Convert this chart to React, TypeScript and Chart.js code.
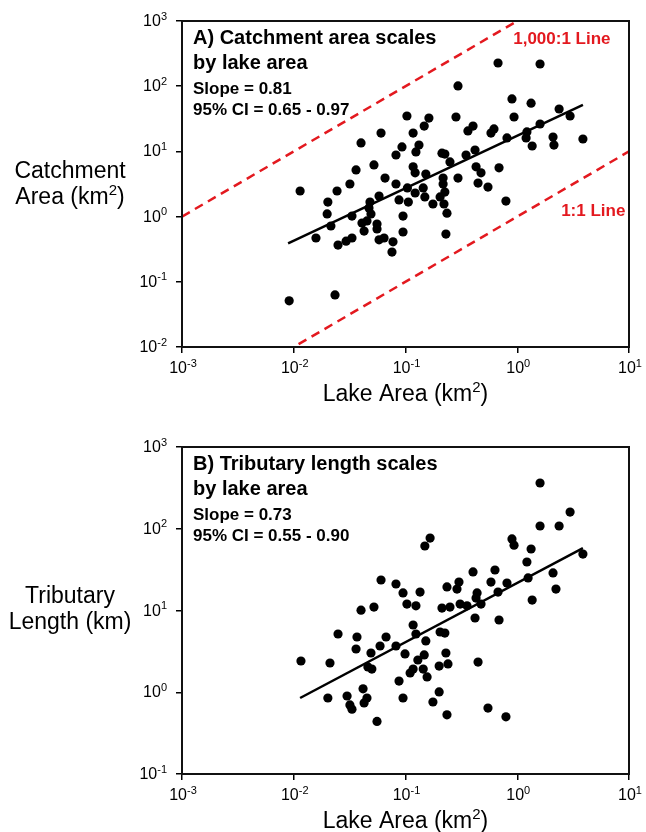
import React, { useEffect, useRef } from "react";
import { Chart, registerables } from "chart.js";

Chart.register(...registerables);

const FONT = '"Liberation Sans", Arial, Helvetica, sans-serif';
const RED = "#e3191f";
const INK = "#000000";

// ---------- Panel A: catchment area vs lake area ----------
const lakeAreaA = [
  0.0114, 0.0091, 0.0234, 0.0244, 0.0318, 0.0361, 0.0656, 0.0822, 0.104, 0.0202,
  0.0199, 0.0332, 0.0481, 0.058, 0.0471, 0.0491, 0.0875, 0.106, 0.095, 0.0215,
  0.0408, 0.0452, 0.0556, 0.0556, 0.0426, 0.095, 0.0158, 0.0332, 0.0294, 0.0249,
  0.058, 0.0643, 0.0773, 0.0757, 0.103, 0.0604, 0.04, 0.093, 0.0822, 0.0522,
  0.673, 1.6, 0.295, 0.897, 1.33, 2.37, 2.97, 0.162, 0.283, 0.936,
  0.147, 0.117, 0.402, 0.362, 0.619, 0.582, 1.6, 1.22, 0.809, 1.2,
  2.09, 2.13, 3.87, 1.36, 0.132, 0.124, 0.212, 0.225, 0.348, 0.419,
  0.25, 0.117, 0.122, 0.152, 0.428, 0.474, 0.687, 0.217, 0.295, 0.122,
  0.144, 0.149, 0.176, 0.204, 0.217, 0.225, 0.221, 0.235, 0.23, 0.446,
  0.547, 0.792,
];
const catchmentA = [
  2.47, 0.051, 0.063, 2.47, 3.16, 5.2, 3.9, 3.16, 2.75, 1.67,
  1.1, 1.02, 1.67, 2.07, 1.36, 1.1, 1.8, 1.67, 1.02, 0.718,
  0.798, 0.857, 0.77, 0.645, 0.6, 0.58, 0.47, 0.47, 0.42, 0.366,
  0.44, 0.47, 0.41, 0.286, 34.9, 19.1, 13.5, 11.7, 8.8, 6.2,
  227, 219, 101, 63.7, 55, 44.7, 34.9, 32.5, 33.7, 33.7,
  24.5, 19.1, 24.5, 20.6, 22.1, 19.1, 26.3, 19.9, 16.1, 16.1,
  16.6, 12.5, 15.5, 12.1, 12.5, 9.8, 9.4, 9.1, 8.8, 10.5,
  6.9, 5.8, 4.7, 4.5, 5.8, 4.7, 5.6, 3.9, 3.9, 2.3,
  2.75, 2.0, 1.56, 2.0, 3.16, 2.38, 1.56, 1.13, 0.54, 3.27,
  2.84, 1.73,
];
const fitLakeA = [0.0089, 3.87];
const fitCatchA = [0.39, 51.5];
const ratio1000X = [0.001, 10];
const ratio1000Y = [1, 10000];
const ratio1X = [0.001, 10];
const ratio1Y = [0.001, 10];

// ---------- Panel B: tributary length vs lake area ----------
const lakeAreaB = [
  0.0604, 0.0822, 0.095, 0.103, 0.04, 0.0522, 1.6, 2.97, 1.6, 2.37,
  0.166, 0.149, 0.897, 0.936, 1.33, 3.87, 1.22, 0.402, 0.632, 2.09,
  0.582, 0.809, 0.301, 0.235, 0.289, 1.25, 2.22, 0.135, 0.437, 0.673,
  0.124, 0.212, 0.25, 0.308, 0.355, 0.428, 0.474, 1.36, 0.419, 0.687,
  0.0249, 0.0368, 0.067, 0.0361, 0.0491, 0.0592, 0.0822, 0.099, 0.0116, 0.0211,
  0.0461, 0.05, 0.11, 0.0875, 0.0417, 0.0202, 0.03, 0.0452, 0.0426, 0.0318,
  0.0332, 0.095, 0.0556, 0.117, 0.124, 0.152, 0.204, 0.225, 0.147, 0.129,
  0.23, 0.2, 0.24, 0.446, 0.144, 0.117, 0.156, 0.2, 0.176, 0.547,
  0.235, 0.792,
];
const tributaryB = [
  23.6, 21.1, 16.4, 12.0, 10.1, 11.0, 363, 160, 108, 108,
  77, 61.5, 75, 63, 56.5, 49, 39.2, 29.6, 31.3, 28.8,
  22.3, 21.7, 22.3, 19.4, 18.3, 25, 18.3, 16.8, 16.4, 16.8,
  11.4, 10.7, 11.0, 12.0, 11.4, 14.2, 12.0, 13.4, 8.1, 7.65,
  5.16, 4.74, 4.74, 3.38, 3.02, 3.68, 3.68, 2.94, 2.41, 2.28,
  2.04, 1.92, 1.72, 1.37, 1.1, 0.85, 0.9, 0.85, 0.74, 0.7,
  0.62, 0.85, 0.44, 6.65, 5.16, 4.24, 5.46, 5.3, 2.86, 2.48,
  3.02, 2.09, 2.22, 2.34, 1.92, 1.92, 1.54, 1.01, 0.76, 0.64,
  0.53, 0.5,
];
const fitLakeB = [0.0114, 3.87];
const fitTribB = [0.85, 58];

// ---------- ticks & text ----------
const xTickValues = [0.001, 0.01, 0.1, 1, 10];
const xTickLabels = ["10^-3", "10^-2", "10^-1", "10^0", "10^1"];
const yTickValuesA = [0.01, 0.1, 1, 10, 100, 1000];
const yTickLabelsA = ["10^-2", "10^-1", "10^0", "10^1", "10^2", "10^3"];
const yTickValuesB = [0.1, 1, 10, 100, 1000];
const yTickLabelsB = ["10^-1", "10^0", "10^1", "10^2", "10^3"];

const panelTextA = ["A) Catchment area scales", "by lake area", "Slope = 0.81", "95% CI = 0.65 - 0.97"];
const panelTextB = ["B) Tributary length scales", "by lake area", "Slope = 0.73", "95% CI = 0.55 - 0.90"];
const yTitleA = ["Catchment", "Area (km^2)"];
const yTitleB = ["Tributary", "Length (km)"];
const xTitle = "Lake Area (km^2)";
const refLabelTextA = ["1,000:1 Line", "1:1 Line"];
const refLabelXA = [0.92, 2.47];
const refLabelYA = [443, 1.02];

type Part = { t: string; sup: boolean };
function splitRich(s: string): Part[] {
  const out: Part[] = [];
  const re = /\^(-?\d+)/g;
  let last = 0;
  let m: RegExpExecArray | null;
  while ((m = re.exec(s))) {
    if (m.index > last) out.push({ t: s.slice(last, m.index), sup: false });
    out.push({ t: m[1], sup: true });
    last = m.index + m[0].length;
  }
  if (last < s.length) out.push({ t: s.slice(last), sup: false });
  return out;
}

function drawRich(
  ctx: CanvasRenderingContext2D,
  s: string,
  x: number,
  y: number,
  align: "left" | "center" | "right",
  size: number,
  supSize: number,
  weight = "normal",
  color = INK
) {
  const ps = splitRich(s);
  const font = (sup: boolean) => `${weight} ${sup ? supSize : size}px ${FONT}`;
  let w = 0;
  for (const p of ps) {
    ctx.font = font(p.sup);
    w += ctx.measureText(p.t).width;
  }
  let cx = align === "left" ? x : align === "center" ? x - w / 2 : x - w;
  ctx.textAlign = "left";
  ctx.textBaseline = "alphabetic";
  ctx.fillStyle = color;
  for (const p of ps) {
    ctx.font = font(p.sup);
    ctx.fillText(p.t, cx, p.sup ? y - size * 0.4 : y);
    cx += ctx.measureText(p.t).width;
  }
}

type PanelCfg = {
  lake: number[];
  yvals: number[];
  fitX: number[];
  fitY: number[];
  refLines: { x: number[]; y: number[] }[];
  refLabels: { text: string; x: number; y: number }[];
  yMin: number;
  yMax: number;
  yTicks: number[];
  yLabels: string[];
  panel: string[];
  yTitle: string[];
  yTitleOffset: number;
  yTitleGap: number;
  padTop: number;
  xAxisH: number;
  height: number;
  top: number;
};

function ScatterPanel({ cfg }: { cfg: PanelCfg }) {
  const ref = useRef<HTMLCanvasElement>(null);
  useEffect(() => {
    if (!ref.current) return;
    const datasets: any[] = [
      {
        label: "fit",
        data: cfg.fitX.map((x, i) => ({ x, y: cfg.fitY[i] })),
        showLine: true,
        borderColor: INK,
        borderWidth: 2.5,
        pointRadius: 0,
        order: 0,
      },
      {
        label: "lakes",
        data: cfg.lake.map((x, i) => ({ x, y: cfg.yvals[i] })),
        showLine: false,
        pointRadius: 4.6,
        pointBackgroundColor: INK,
        pointBorderWidth: 0,
        backgroundColor: INK,
        borderColor: INK,
        order: 1,
      },
      ...cfg.refLines.map((l) => ({
        label: "ref",
        data: l.x.map((x, i) => ({ x, y: l.y[i] })),
        showLine: true,
        borderColor: RED,
        borderWidth: 2.5,
        borderDash: [9, 6],
        pointRadius: 0,
        order: 2,
      })),
    ];

    const decor = {
      id: "decor",
      afterDraw(chart: any) {
        const { ctx, chartArea: a, scales } = chart;
        const xs = scales.x;
        const ys = scales.y;
        ctx.save();
        ctx.strokeStyle = "#111";
        ctx.lineWidth = 2;
        ctx.strokeRect(a.left, a.top, a.right - a.left, a.bottom - a.top);

        xs.ticks.forEach((t: any) => {
          const i = xTickValues.indexOf(t.value);
          if (i < 0) return;
          drawRich(ctx, xTickLabels[i], xs.getPixelForValue(t.value) + 1, a.bottom + 26, "center", 16, 11);
        });
        ys.ticks.forEach((t: any) => {
          const i = cfg.yTicks.indexOf(t.value);
          if (i < 0) return;
          drawRich(ctx, cfg.yLabels[i], a.left - 15, ys.getPixelForValue(t.value) + 5, "right", 16, 11);
        });

        drawRich(ctx, xTitle, (a.left + a.right) / 2, a.bottom + 54, "center", 23, 15);
        const mid = (a.top + a.bottom) / 2;
        cfg.yTitle.forEach((s, i) =>
          drawRich(ctx, s, 70, mid + cfg.yTitleOffset + i * cfg.yTitleGap, "center", 23, 15)
        );

        const tx = a.left + 11;
        drawRich(ctx, cfg.panel[0], tx, a.top + 23, "left", 20, 13, "bold");
        drawRich(ctx, cfg.panel[1], tx, a.top + 48, "left", 20, 13, "bold");
        drawRich(ctx, cfg.panel[2], tx, a.top + 73, "left", 17, 11, "bold");
        drawRich(ctx, cfg.panel[3], tx, a.top + 94, "left", 17, 11, "bold");

        cfg.refLabels.forEach((l) =>
          drawRich(ctx, l.text, xs.getPixelForValue(l.x), ys.getPixelForValue(l.y), "left", 17, 11, "bold", RED)
        );
        ctx.restore();
      },
    };

    const chart = new Chart(ref.current, {
      type: "scatter",
      data: { datasets },
      options: {
        responsive: false,
        maintainAspectRatio: false,
        animation: false,
        devicePixelRatio: 1,
        layout: { padding: { top: cfg.padTop, right: 17, left: 0, bottom: 0 } },
        plugins: { legend: { display: false }, tooltip: { enabled: false } },
        scales: {
          x: {
            type: "logarithmic",
            min: 0.001,
            max: 10,
            afterBuildTicks: (s: any) => {
              s.ticks = xTickValues.map((v) => ({ value: v }));
            },
            afterFit: (s: any) => {
              s.height = cfg.xAxisH;
            },
            ticks: { display: false },
            grid: { display: true, drawOnChartArea: false, drawTicks: true, tickLength: 6, color: INK, lineWidth: 1.5 },
            border: { display: false },
          },
          y: {
            type: "logarithmic",
            min: cfg.yMin,
            max: cfg.yMax,
            afterBuildTicks: (s: any) => {
              s.ticks = cfg.yTicks.map((v) => ({ value: v }));
            },
            afterFit: (s: any) => {
              s.width = 182;
            },
            ticks: { display: false },
            grid: { display: true, drawOnChartArea: false, drawTicks: true, tickLength: 6, color: INK, lineWidth: 1.5 },
            border: { display: false },
          },
        },
      } as any,
      plugins: [decor],
    });
    return () => chart.destroy();
  }, []);
  return (
    <canvas
      ref={ref}
      width={646}
      height={cfg.height}
      style={{ position: "absolute", left: 0, top: cfg.top, width: 646, height: cfg.height, display: "block" }}
    />
  );
}

const cfgA: PanelCfg = {
  lake: lakeAreaA,
  yvals: catchmentA,
  fitX: fitLakeA,
  fitY: fitCatchA,
  refLines: [
    { x: ratio1000X, y: ratio1000Y },
    { x: ratio1X, y: ratio1Y },
  ],
  refLabels: refLabelTextA.map((t, i) => ({ text: t, x: refLabelXA[i], y: refLabelYA[i] })),
  yMin: 0.01,
  yMax: 1000,
  yTicks: yTickValuesA,
  yLabels: yTickLabelsA,
  panel: panelTextA,
  yTitle: yTitleA,
  yTitleOffset: -6,
  yTitleGap: 26,
  padTop: 21,
  xAxisH: 69,
  height: 416,
  top: 0,
};

const cfgB: PanelCfg = {
  lake: lakeAreaB,
  yvals: tributaryB,
  fitX: fitLakeB,
  fitY: fitTribB,
  refLines: [],
  refLabels: [],
  yMin: 0.1,
  yMax: 1000,
  yTicks: yTickValuesB,
  yLabels: yTickLabelsB,
  panel: panelTextB,
  yTitle: yTitleB,
  yTitleOffset: -8,
  yTitleGap: 26,
  padTop: 31,
  xAxisH: 58,
  height: 416,
  top: 416,
};

export default function App() {
  return (
    <div style={{ position: "absolute", left: 0, top: 0, width: 646, height: 832, background: "#fff" }}>
      <ScatterPanel cfg={cfgA} />
      <ScatterPanel cfg={cfgB} />
    </div>
  );
}
